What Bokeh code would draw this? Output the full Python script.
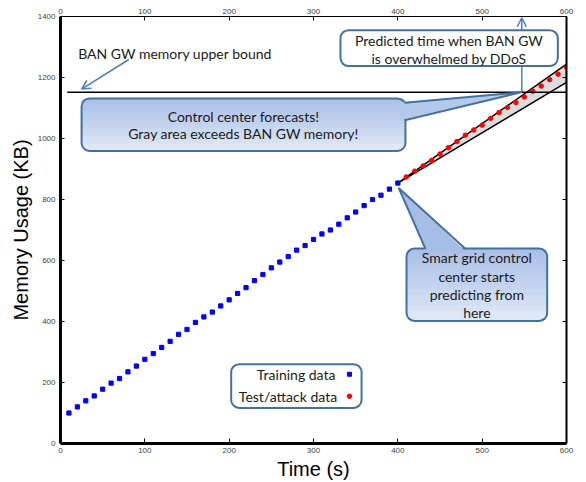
from bokeh.plotting import figure
from bokeh.models import LinearAxis, FixedTicker, Arrow, OpenHead, CustomJSTickFormatter
from bokeh.embed import file_html
from bokeh.resources import INLINE
from bokeh.core.properties import value

# ---------------- data ----------------
train_t = list(range(10, 401, 10))
train_kb = [100, 120, 140, 156, 178, 198, 213, 235, 254, 276,
            295, 315, 335, 358, 374, 397, 415, 431, 451, 471,
            492, 511, 534, 554, 576, 595, 613, 634, 649, 669,
            687, 700, 719, 740, 759, 780, 800, 814, 834, 854]
test_t = list(range(410, 601, 10))
test_kb = [874, 893, 910, 928, 949, 970, 990, 1011, 1028, 1044,
           1066, 1085, 1102, 1118, 1136, 1155, 1172, 1193, 1211, 1234]
forecast_t = [400, 600, 600]
forecast_kb = [854, 1244, 1184]
memory_bound_kb = 1152
memory_bound_t = [8, 600]
x_ticks = [0, 100, 200, 300, 400, 500, 600]
y_ticks = [0, 200, 400, 600, 800, 1000, 1200, 1400]

# ---------------- styles ----------------
BORDER = "#41719c"
ARROW = "#4a7ebb"
TOP_COL = (166, 189, 229)
BOT_COL = (222, 231, 246)
CALLOUT_FONT = value("Lato")
TICK_FONT = "Liberation Sans"


def mix(a, b, f):
    return "#%02x%02x%02x" % tuple(int(round(a[i] + (b[i] - a[i]) * f)) for i in range(3))


p = figure(width=586, height=482, x_range=(0, 600), y_range=(0, 1400),
           output_backend="svg", toolbar_location=None,
           min_border_left=60, min_border_right=20, min_border_top=16, min_border_bottom=39)
p.xgrid.visible = False
p.ygrid.visible = False
p.outline_line_color = None
p.background_fill_color = "white"
p.border_fill_color = "white"


def style_axis(ax, ticks, line_w, tick_in):
    ax.ticker = FixedTicker(ticks=ticks)
    ax.axis_line_color = "black"
    ax.axis_line_width = line_w
    ax.major_tick_in = tick_in
    ax.major_tick_out = 0
    ax.major_tick_line_color = "black"
    ax.major_tick_line_width = 1
    ax.minor_tick_line_color = None
    ax.major_label_text_font = TICK_FONT
    ax.major_label_text_color = "#404040"
    ax.major_label_text_font_size = "8px"


xb = p.xaxis[0]
style_axis(xb, x_ticks, 3, 5)
xb.major_label_standoff = 4
xb.axis_label = "Time (s)"
xb.axis_label_text_font = TICK_FONT
xb.axis_label_text_font_size = "20px"
xb.axis_label_text_font_style = "normal"
xb.axis_label_text_color = "black"
xb.axis_label_standoff = 2

yl = p.yaxis[0]
style_axis(yl, y_ticks, 3, 4)
yl.major_label_standoff = 5
yl.axis_label = "Memory Usage (KB)"
yl.axis_label_text_font = TICK_FONT
yl.axis_label_text_font_size = "20px"
yl.axis_label_text_font_style = "normal"
yl.axis_label_text_color = "black"
yl.axis_label_standoff = 3

xt = LinearAxis()
style_axis(xt, x_ticks, 1, 4)
xt.major_label_standoff = 3
p.add_layout(xt, "above")

yr = LinearAxis()
style_axis(yr, y_ticks, 2, 4)
yr.major_label_standoff = 0
yr.formatter = CustomJSTickFormatter(code="return ''")
p.add_layout(yr, "right")

# ---------------- forecast band ----------------
p.patch(forecast_t, forecast_kb, fill_color="#dcdcdc", line_color="black", line_width=1.5)

# ---------------- data points ----------------
p.scatter(train_t, train_kb, marker="square", size=4.2, color="#0000ff")
p.scatter(test_t, test_kb, marker="circle", size=4.5, color="#ff0000")

# ---------------- memory bound line ----------------
p.line(memory_bound_t, [memory_bound_kb, memory_bound_kb], line_color="black", line_width=1.5)
p.text(x=[21], y=[1280], text=["BAN GW memory upper bound"], text_font=CALLOUT_FONT,
       text_font_size="14px", text_align="left", text_baseline="middle", text_color="#1a1a1a")
p.add_layout(Arrow(end=OpenHead(size=9, line_color=ARROW, line_width=1.5),
                   x_start=81, y_start=1259, x_end=25, y_end=1162,
                   line_color=ARROW, line_width=1.5))

# arrow to top (drawn under callout box)
p.add_layout(Arrow(end=OpenHead(size=9, line_color=ARROW, line_width=1.5),
                   x_start=547, y_start=1152, x_end=547, y_end=1396,
                   line_color=ARROW, line_width=1.5, level="underlay"))


def gradient_box(l, r, t, b, n=14, radius=8):
    p.quad(left=[l], right=[r], top=[t], bottom=[b], fill_color=mix(TOP_COL, BOT_COL, 1.0),
           line_color=None, border_radius=radius)
    for k in range(2, n):
        f = k / n
        p.quad(left=[l], right=[r], top=[t], bottom=[b + (t - b) * f],
               fill_color=mix(TOP_COL, BOT_COL, 1 - f), line_color=None,
               border_radius=(radius, radius, 0, 0))
    p.quad(left=[l], right=[r], top=[t], bottom=[b], fill_color=None,
           line_color=BORDER, line_width=2, border_radius=radius)


def wedge(base1, base2, inner1, inner2, tip, col):
    p.patch([inner1[0], tip[0], inner2[0]], [inner1[1], tip[1], inner2[1]],
            fill_color=col, line_color=None)
    p.line([base1[0], tip[0], base2[0]], [base1[1], tip[1], base2[1]],
           line_color=BORDER, line_width=2)


# callout 1: control center forecasts
gradient_box(25, 409, 1131, 959)
wedge((408, 1117), (408, 1060), (402, 1117), (402, 1060), (547, 1152), mix(TOP_COL, BOT_COL, 0.25))
p.text(x=[217, 217], y=[1073, 1016],
       text=["Control center forecasts!", "Gray area exceeds BAN GW memory!"],
       text_font=CALLOUT_FONT, text_font_size="14px", text_align="center",
       text_baseline="middle", text_color="#1a1a1a")

# callout 2: predicted time
p.quad(left=[332], right=[589.7], top=[1355], bottom=[1237.5], fill_color="white",
       line_color=BORDER, line_width=2, border_radius=8)
p.text(x=[460.7, 460.7], y=[1322, 1262],
       text=["Predicted time when BAN GW", "is overwhelmed by DDoS"],
       text_font=CALLOUT_FONT, text_font_size="14px", text_align="center",
       text_baseline="middle", text_color="#1a1a1a")

# callout 3: starts predicting
gradient_box(410.3, 577.1, 639, 402)
wedge((432.8, 638), (480.3, 638), (432.8, 630), (480.3, 630), (401, 838), mix(TOP_COL, BOT_COL, 0.0))
p.text(x=[493.7] * 4, y=[610, 549, 490, 430],
       text=["Smart grid control", "center starts", "predicting from", "here"],
       text_font=CALLOUT_FONT, text_font_size="14px", text_align="center",
       text_baseline="middle", text_color="#1a1a1a")

# legend (text left, marker right)
p.quad(left=[202.4], right=[357], top=[260], bottom=[116.7], fill_color="white",
       line_color=BORDER, line_width=2, border_radius=8)
p.text(x=[326, 328], y=[227, 155], text=["Training data", "Test/attack data"],
       text_font=CALLOUT_FONT, text_font_size="14px", text_align="right",
       text_baseline="middle", text_color="#1a1a1a")
p.scatter([342.7], [227], marker="square", size=4, color="#0000ff")
p.scatter([342.7], [155], marker="circle", size=4.5, color="#ff0000")

open("out.html", "w").write(file_html(p, INLINE))
